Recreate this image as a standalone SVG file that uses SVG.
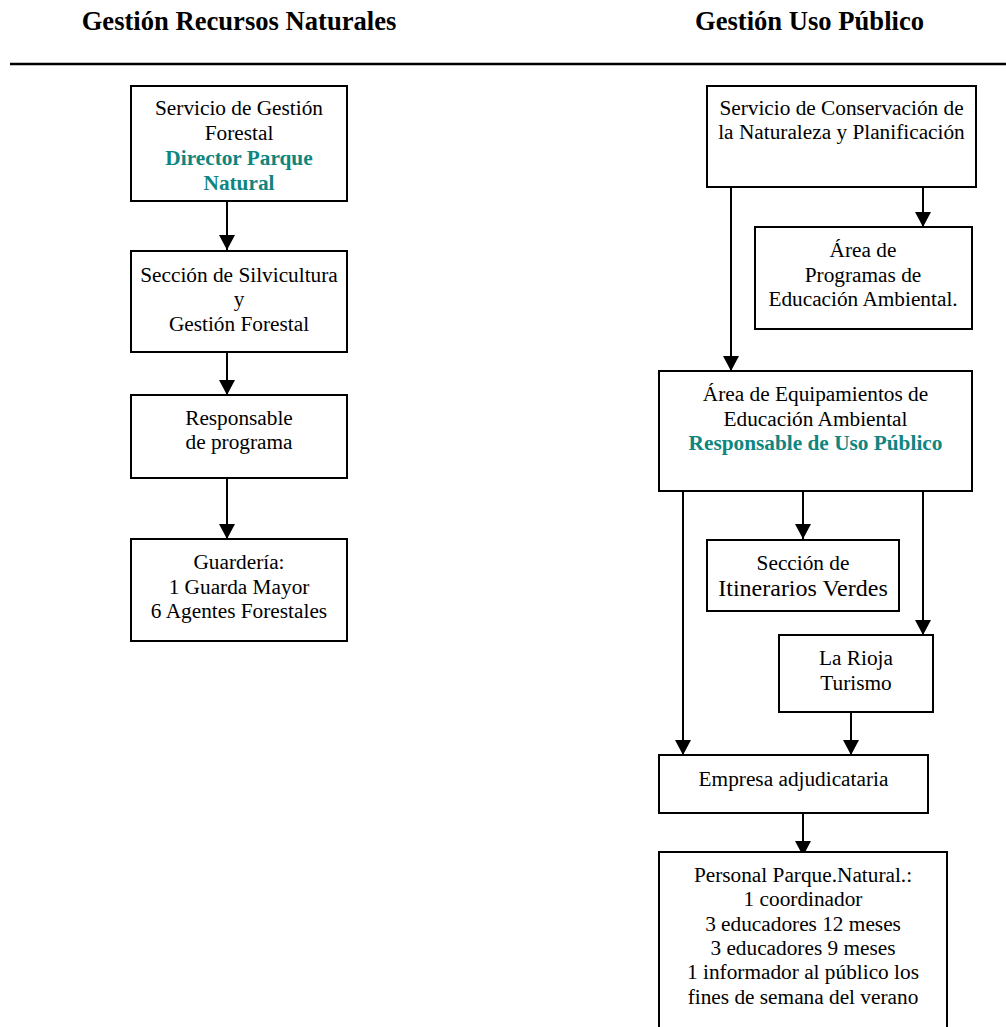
<svg xmlns="http://www.w3.org/2000/svg" width="1006" height="1027" viewBox="0 0 1006 1027">
<style>
.box{fill:#fff;stroke:#000;stroke-width:2}
.t{font-family:"Liberation Serif","Times New Roman",serif;font-size:21.3px;fill:#000;text-anchor:middle}
.b{font-weight:bold;fill:#0f8580}
.h{font-family:"Liberation Serif","Times New Roman",serif;font-size:26.6px;font-weight:bold;fill:#000;text-anchor:middle}
.c{stroke:#000;stroke-width:2;fill:none;marker-end:url(#ah)}
</style>
<defs>
<marker id="ah" markerUnits="userSpaceOnUse" markerWidth="15" markerHeight="16" refX="15" refY="8" orient="auto" viewBox="0 0 15 16">
<path d="M0,0 L15,8 L0,16 Z" fill="#000"/>
</marker>
</defs>
<rect width="1006" height="1027" fill="#fff"/>
<g id="headers">
<text class="h" x="239" y="30">Gestión Recursos Naturales</text>
<text class="h" x="809.5" y="30">Gestión Uso Público</text>
<line x1="10" y1="64" x2="1006" y2="64" stroke="#000" stroke-width="2.4"/>
</g>
<g id="connectors">
<path class="c" d="M227,201 V250"/>
<path class="c" d="M227,347 V395"/>
<path class="c" d="M227,467 V539"/>
<path class="c" d="M731,179 V371"/>
<path class="c" d="M923,179 V227"/>
<path class="c" d="M683,491 V755"/>
<path class="c" d="M803,491 V539"/>
<path class="c" d="M923,491 V635"/>
<path class="c" d="M851,707 V755"/>
<path class="c" d="M803,803 V856"/>
</g>
<g id="n1">
<rect class="box" x="131" y="86" width="216" height="115"/>
<text class="t" x="239" y="115">Servicio de Gestión</text>
<text class="t" x="239" y="140">Forestal</text>
<text class="t b" x="239" y="165">Director Parque</text>
<text class="t b" x="239" y="190">Natural</text>
</g>
<g id="n2">
<rect class="box" x="131" y="251" width="216" height="101"/>
<text class="t" x="239" y="282">Sección de Silvicultura</text>
<text class="t" x="239" y="306">y</text>
<text class="t" x="239" y="331">Gestión Forestal</text>
</g>
<g id="n3">
<rect class="box" x="131" y="395" width="216" height="83"/>
<text class="t" x="239" y="425">Responsable</text>
<text class="t" x="239" y="449">de programa</text>
</g>
<g id="n4">
<rect class="box" x="131" y="539" width="216" height="102"/>
<text class="t" x="239" y="569">Guardería:</text>
<text class="t" x="239" y="594">1 Guarda Mayor</text>
<text class="t" x="239" y="618">6 Agentes Forestales</text>
</g>
<g id="r1">
<rect class="box" x="707" y="86" width="269" height="101"/>
<text class="t" x="841.5" y="115">Servicio de Conservación de</text>
<text class="t" x="841.5" y="139">la Naturaleza y Planificación</text>
</g>
<g id="r2">
<rect class="box" x="755" y="227" width="217" height="102"/>
<text class="t" x="863" y="257">Área de</text>
<text class="t" x="863" y="282">Programas de</text>
<text class="t" x="863" y="306">Educación Ambiental.</text>
</g>
<g id="r3">
<rect class="box" x="659" y="371" width="313" height="120"/>
<text class="t" x="815.5" y="401">Área de Equipamientos de</text>
<text class="t" x="815.5" y="426">Educación Ambiental</text>
<text class="t b" x="815.5" y="450">Responsable de Uso Público</text>
</g>
<g id="r4">
<rect class="box" x="707" y="540" width="192" height="71"/>
<text class="t" x="803" y="570">Sección de</text>
<text class="t" x="803" y="596" style="font-size:24px">Itinerarios Verdes</text>
</g>
<g id="r5">
<rect class="box" x="779" y="635" width="154" height="77"/>
<text class="t" x="856" y="665">La Rioja</text>
<text class="t" x="856" y="690">Turismo</text>
</g>
<g id="r6">
<rect class="box" x="659" y="755" width="269" height="58"/>
<text class="t" x="793.5" y="786">Empresa adjudicataria</text>
</g>
<g id="r7">
<rect class="box" x="659" y="852" width="288" height="200"/>
<text class="t" x="803" y="882">Personal Parque.Natural.:</text>
<text class="t" x="803" y="906">1 coordinador</text>
<text class="t" x="803" y="931">3 educadores 12 meses</text>
<text class="t" x="803" y="955">3 educadores 9 meses</text>
<text class="t" x="803" y="979">1 informador al público los</text>
<text class="t" x="803" y="1004">fines de semana del verano</text>
</g>
</svg>
